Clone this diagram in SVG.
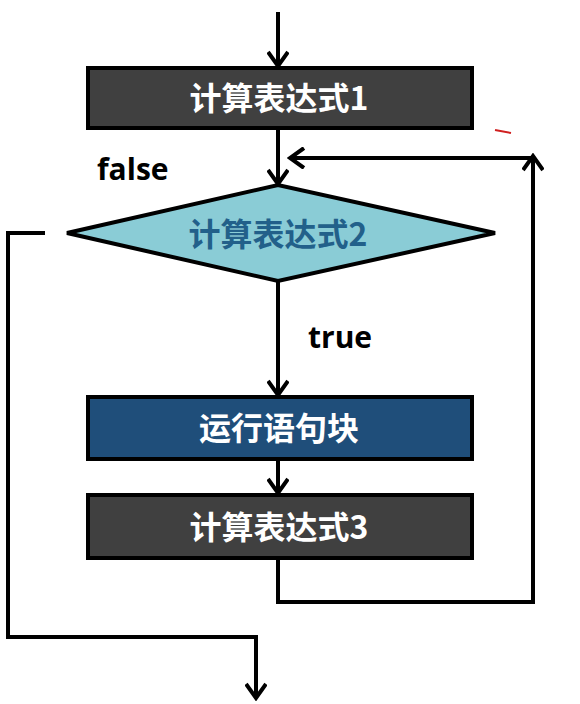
<svg xmlns="http://www.w3.org/2000/svg" width="580" height="704" viewBox="0 0 580 704">
<style>
.box{stroke:#000;stroke-width:4}
.dark{fill:#404040}
.blue{fill:#1f4e7a}
.lbl{font-family:"Noto Sans CJK SC","Noto Sans",sans-serif;font-weight:bold;font-size:32px;text-anchor:middle;fill:#fff}
.dlbl{fill:#22608a}
.edge{fill:none;stroke:#000;stroke-width:4}
.cond{font-family:"Open Sans","Noto Sans",sans-serif;font-weight:bold;font-size:30px;fill:#000}
</style>
<defs>
<marker id="arr" viewBox="0 0 22 22" refX="19" refY="11" markerWidth="22" markerHeight="22" markerUnits="userSpaceOnUse" orient="auto">
<path d="M5,1 L19,11 L5,21" fill="none" stroke="#000" stroke-width="4" stroke-linejoin="miter"/>
</marker>
</defs>
<rect width="580" height="704" fill="#fff"/>
<g id="connectors">
<path class="edge" d="M278,12 V66" marker-end="url(#arr)"/>
<path class="edge" d="M278,130 V184" marker-end="url(#arr)"/>
<path class="edge" d="M278,281 V395" marker-end="url(#arr)"/>
<path class="edge" d="M278,461 V493" marker-end="url(#arr)"/>
<path class="edge" d="M278,560 V602 H533 V156" marker-end="url(#arr)"/>
<path class="edge" d="M533,158 H290" marker-end="url(#arr)"/>
<path class="edge" d="M45,233 H8 V637 H256 V698" marker-end="url(#arr)"/>
</g>
<g id="expr1">
<rect class="box dark" x="88" y="68" width="384" height="60"/>
<text class="lbl" x="279" y="110">计算表达式1</text>
</g>
<g id="expr2">
<polygon points="67,233 278,185 495,233 278,281" fill="#8accd6" stroke="#000" stroke-width="4"/>
<text class="lbl dlbl" x="278" y="246">计算表达式2</text>
</g>
<g id="block">
<rect class="box blue" x="88" y="397" width="384" height="62"/>
<text class="lbl" x="279" y="440">运行语句块</text>
</g>
<g id="expr3">
<rect class="box dark" x="88" y="495" width="384" height="63"/>
<text class="lbl" x="279" y="539">计算表达式3</text>
</g>
<text class="cond" x="97" y="180">false</text>
<text class="cond" x="308" y="348">true</text>
<line x1="495" y1="130" x2="511" y2="133" stroke="#d02020" stroke-width="2"/>
</svg>
